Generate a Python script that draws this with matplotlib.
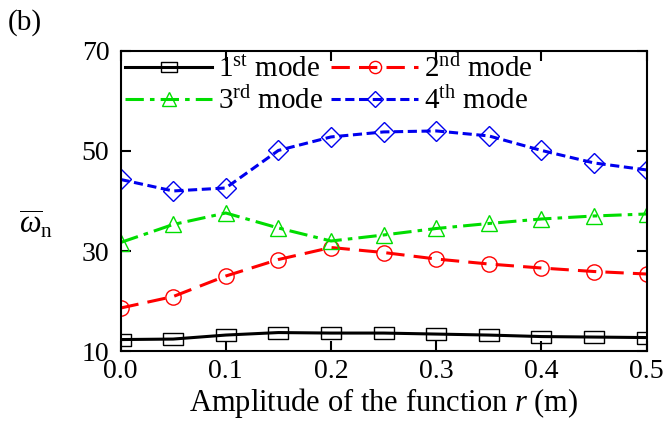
import matplotlib
matplotlib.use('Agg')
import matplotlib.pyplot as plt

plt.rcParams['font.family'] = ['Liberation Serif', 'DejaVu Serif']
plt.rcParams['mathtext.fontset'] = 'custom'
plt.rcParams['mathtext.rm'] = 'Liberation Serif'
plt.rcParams['mathtext.it'] = 'Liberation Serif:italic'

# amplitude r (m)
r = [0.0, 0.05, 0.1, 0.15, 0.2, 0.25, 0.3, 0.35, 0.4, 0.45, 0.5]

# natural frequencies of each mode
mode1 = [12.3, 12.4, 13.2, 13.7, 13.6, 13.6, 13.4, 13.2, 12.9, 12.8, 12.7]
mode2 = [18.6, 20.9, 25.0, 28.3, 30.7, 29.7, 28.4, 27.4, 26.6, 25.9, 25.4]
mode3 = [31.7, 35.3, 37.6, 34.6, 32.0, 33.2, 34.5, 35.5, 36.4, 37.0, 37.4]
mode4 = [44.3, 42.0, 42.6, 50.1, 52.8, 53.8, 54.0, 53.0, 50.1, 47.6, 46.2]

labels = ['1$^{\\rm st}$ mode', '2$^{\\rm nd}$ mode',
          '3$^{\\rm rd}$ mode', '4$^{\\rm th}$ mode']

# slightly wide square, like the stretched original
rect = [(-1.5, -1), (1.5, -1), (1.5, 1), (-1.5, 1), (-1.5, -1)]

fig = plt.figure(figsize=(6.66, 4.24), dpi=100)
ax = fig.add_axes([0.181, 0.172, 0.79, 0.708])

lw = 2.2
ms = 11
common = dict(linewidth=lw, markerfacecolor='none', markeredgewidth=1.0)
h1, = ax.plot(r, mode1, color='black', linestyle='-', marker=rect,
              markersize=ms + 3, label=labels[0], **common)
h2, = ax.plot(r, mode2, color='red', linestyle=(0, (6, 3)), marker='o',
              markersize=ms, label=labels[1], **common)
h3, = ax.plot(r, mode3, color='#00dd00', linestyle=(0, (6, 2, 1.5, 2)), marker='^',
              markersize=ms + 1, label=labels[2], **common)
h4, = ax.plot(r, mode4, color='#0000ee', linestyle=(0, (3, 1.5)), marker='D',
              markersize=ms - 1, label=labels[3], **common)

ax.set_xlim(0.0, 0.5)
ax.set_ylim(10, 70)
ax.set_xticks([0.0, 0.1, 0.2, 0.3, 0.4, 0.5])
ax.set_yticks([10, 30, 50, 70])
ax.tick_params(direction='in', top=True, right=True, length=7, width=1.5,
               labelsize=20, pad=6)
ax.tick_params(axis='y', pad=8)
for s in ax.spines.values():
    s.set_linewidth(1.5)

ax.set_xlabel('Amplitude of the function $\\mathit{r}$ (m)', fontsize=22, labelpad=1)
ax.set_ylabel('$\\overline{\\omega}_{\\rm n}$', fontsize=22, rotation=0)
ax.yaxis.set_label_coords(-0.16, 0.37)

leg = ax.legend([h1, h3, h2, h4], [labels[0], labels[2], labels[1], labels[3]],
                ncol=2, loc='upper left', frameon=False, fontsize=21,
                handlelength=3.0, handletextpad=0.2, columnspacing=0.25,
                borderaxespad=0.1, labelspacing=0.15, borderpad=0.05,
                markerscale=0.8)

fig.text(0.012, 0.93, '(b)', fontsize=21)

fig.savefig('out.png', dpi=100)
